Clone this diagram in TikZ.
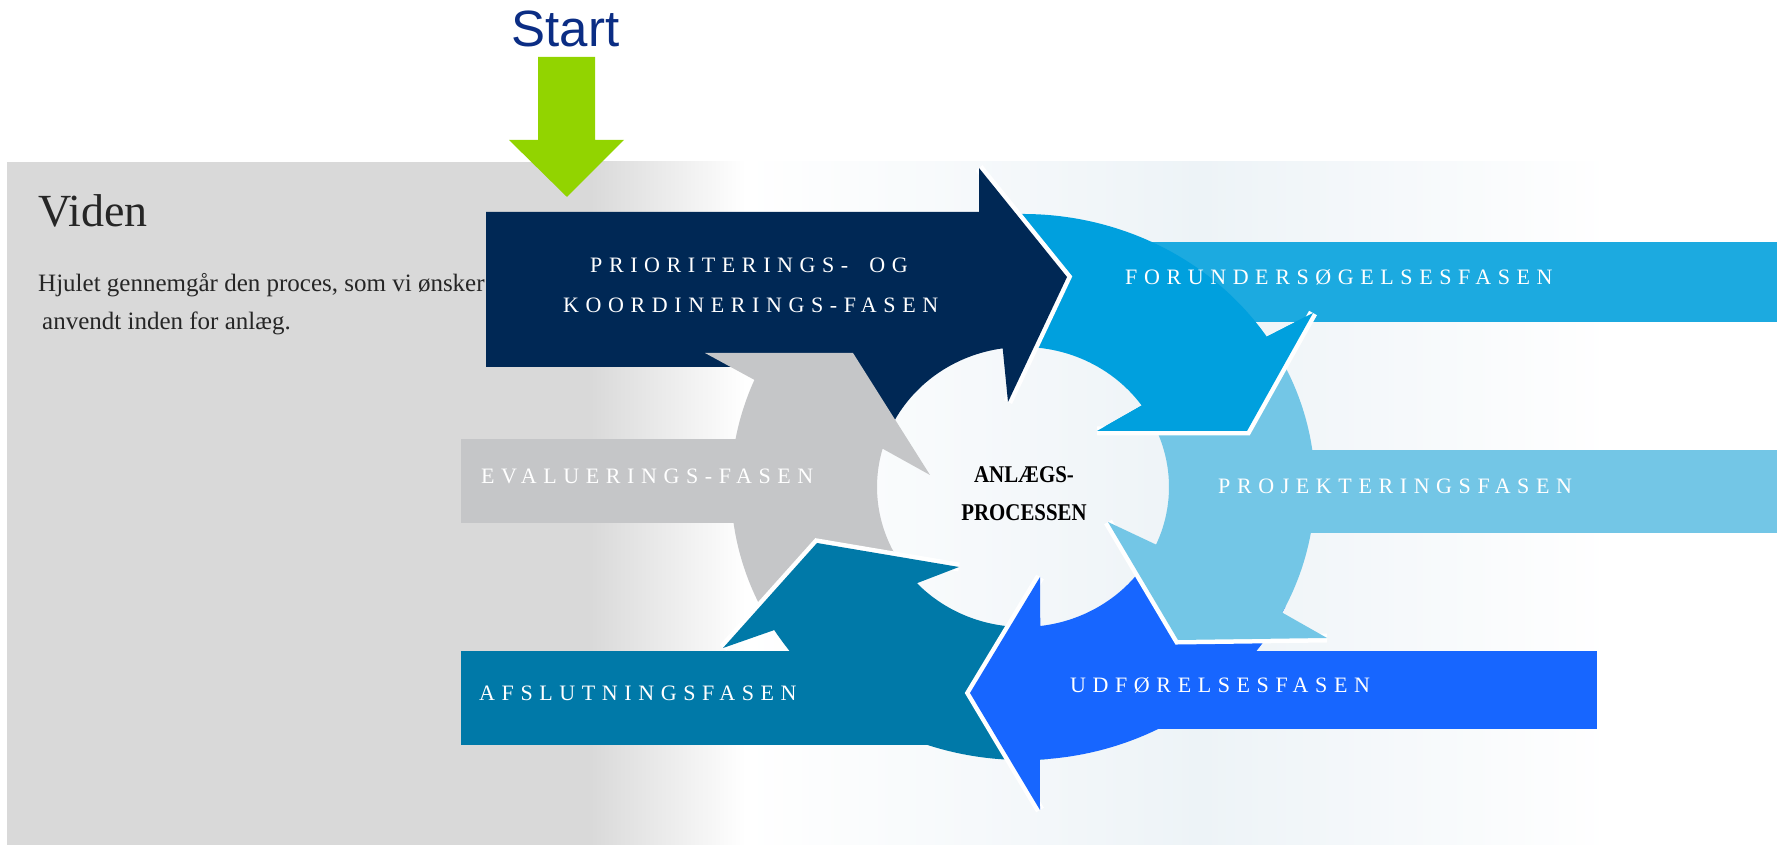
\documentclass[tikz,border=0pt]{standalone}
\usepackage{fontspec}
\setmainfont{Liberation Serif}
\newfontfamily\phasefont[LetterSpace=30]{Liberation Serif}
\newfontfamily\startfont{Liberation Sans}
\usetikzlibrary{calc}

\definecolor{panelgray}{HTML}{D9D9D9}
\definecolor{paleblue}{HTML}{EDF3F7}
\definecolor{textgray}{HTML}{262626}
\definecolor{startblue}{HTML}{0B2D84}
\definecolor{startgreen}{HTML}{92D400}
\definecolor{navyphase}{HTML}{002855}
\definecolor{forephase}{HTML}{00A0DE}
\definecolor{forebanner}{HTML}{1CAAE0}
\definecolor{projphase}{HTML}{73C6E6}
\definecolor{udfphase}{HTML}{1766FF}
\definecolor{afsphase}{HTML}{0079A8}
\definecolor{evalphase}{HTML}{C5C6C8}

\begin{document}
\begin{tikzpicture}[x=1pt,y=1pt,
  headgap/.style={draw=white,line width=9pt},
  phase/.style={text=white,anchor=base west,inner sep=0pt,
    font=\phasefont\fontsize{22}{26}\selectfont}]

  \useasboundingbox (0,0) rectangle (1777,845);

  %% the panel behind everything
  \fill[panelgray] (7,0) rectangle (591,683);
  \shade[left color=panelgray,right color=white] (590,0) rectangle (746,683);
  \shade[left color=white,right color=paleblue] (745,0) rectangle (1201,683);
  \shade[left color=paleblue,right color=white] (1200,0) rectangle (1610,683);

  %% start arrow and its label
  \fill[startgreen] (538,788) -- (595,788) -- (595,705) -- (624,705)
                    -- (567,648) -- (509,705) -- (538,705) -- cycle;
  \node[anchor=base,inner sep=0pt,text=startblue,
        font=\startfont\fontsize{51}{60}\selectfont] (start) at (565.5,798) {Start};

  %% text on the panel
  \node[anchor=base west,inner sep=0pt,text=textgray,
        font=\fontsize{46}{52}\selectfont] (viden) at (38,618) {Viden};
  \node[anchor=base west,inner sep=0pt,text=textgray,
        font=\fontsize{25}{30}\selectfont] (intro/a) at (38,553)
        {Hjulet gennemgår den proces, som vi ønsker};
  \node[anchor=base west,inner sep=0pt,text=textgray,
        font=\fontsize{25}{30}\selectfont] (intro/b) at (42,515)
        {anvendt inden for anlæg.};

  %% the wheel: center and the two ellipses of the ring
  \coordinate (wheel/c) at (1023,358);
  \def\myox{292pt}
  \def\myoy{273pt}
  \def\myix{146pt}
  \def\myiy{140pt}

  %% forundersoegelsesfasen (its head is drawn once more at the end)
  \coordinate (fore/bo)  at (1313,532);
  \coordinate (fore/tip) at (1247,414);
  \coordinate (fore/bi)  at (1097,414);
  \fill[forebanner] (1120,523) rectangle (1777,603);
  \fill[forephase] ($(wheel/c)+(98:{\myox} and {\myoy})$)
      arc[start angle=98,end angle=33.4,x radius=\myox,y radius=\myoy]
      -- (fore/bo) -- (fore/tip) -- (fore/bi)
      -- ($(wheel/c)+(35.6:{\myix} and {\myiy})$)
      arc[start angle=35.6,end angle=98,x radius=\myix,y radius=\myiy] -- cycle;

  %% prioriterings- og koordineringsfasen
  \coordinate (navy/bo)  at (979,677);
  \coordinate (navy/tip) at (1067,568);
  \coordinate (navy/bi)  at (1008,443);
  \draw[headgap] (navy/bo) -- (navy/tip) -- (navy/bi);
  \fill[navyphase] (486,478) -- (486,633) -- (979,633)
      -- (navy/bo) -- (navy/tip) -- (navy/bi)
      -- ($(wheel/c)+(98:{\myix} and {\myiy})$)
      arc[start angle=98,end angle=155,x radius=\myix,y radius=\myiy]
      -- (800,478) -- cycle;

  %% evalueringsfasen
  \coordinate (eval/bo)  at (705,492);
  \coordinate (eval/tip) at (853,492);
  \coordinate (eval/bi)  at (930,370);
  \fill[evalphase] (461,322) rectangle (801,406);
  \fill[evalphase] ($(wheel/c)+(213:{\myox} and {\myoy})$)
      arc[start angle=213,end angle=156.9,x radius=\myox,y radius=\myoy]
      -- (eval/bo) -- (eval/tip) -- (eval/bi)
      -- ($(wheel/c)+(164.1:{\myix} and {\myiy})$)
      arc[start angle=164.1,end angle=213,x radius=\myix,y radius=\myiy] -- cycle;

  %% afslutningsfasen
  \coordinate (afs/bo)  at (723,197);
  \coordinate (afs/tip) at (817,302);
  \coordinate (afs/bi)  at (959,278);
  \draw[headgap] (afs/bo) -- (afs/tip) -- (afs/bi);
  \fill[afsphase] (461,100) rectangle (961,194);
  \fill[afsphase] ($(wheel/c)+(-85:{\myox} and {\myoy})$)
      arc[start angle=-85,end angle=-148.4,x radius=\myox,y radius=\myoy]
      -- (afs/bo) -- (afs/tip) -- (afs/bi)
      -- ($(wheel/c)+(-136.6:{\myix} and {\myiy})$)
      arc[start angle=-136.6,end angle=-85,x radius=\myix,y radius=\myiy] -- cycle;

  %% udfoerelsesfasen
  \coordinate (udf/bo)  at (1040,35);
  \coordinate (udf/tip) at (970,152);
  \coordinate (udf/bi)  at (1040,268);
  \draw[headgap] (udf/bo) -- (udf/tip) -- (udf/bi);
  \fill[udfphase] (1060,116) rectangle (1597,194);
  \fill[udfphase] ($(wheel/c)+(-26:{\myox} and {\myoy})$)
      arc[start angle=-26,end angle=-86.7,x radius=\myox,y radius=\myoy]
      -- (udf/bo) -- (udf/tip) -- (udf/bi)
      -- ($(wheel/c)+(-83.2:{\myix} and {\myiy})$)
      arc[start angle=-83.2,end angle=-26,x radius=\myix,y radius=\myiy] -- cycle;

  %% projekteringsfasen
  \coordinate (proj/bo)  at (1327,207);
  \coordinate (proj/tip) at (1178,205);
  \coordinate (proj/bi)  at (1108,323);
  \draw[headgap] (proj/bo) -- (proj/tip) -- (proj/bi);
  \fill[projphase] (1250,312) rectangle (1777,395);
  \fill[projphase] ($(wheel/c)+(33:{\myox} and {\myoy})$)
      arc[start angle=33,end angle=-27.4,x radius=\myox,y radius=\myoy]
      -- (proj/bo) -- (proj/tip) -- (proj/bi)
      -- ($(wheel/c)+(-24.3:{\myix} and {\myiy})$)
      arc[start angle=-24.3,end angle=33,x radius=\myix,y radius=\myiy] -- cycle;

  %% head of forundersoegelsesfasen on top of the tail of projekteringsfasen
  \draw[headgap] (fore/bo) -- (fore/tip) -- (fore/bi);
  \fill[forephase] ($(wheel/c)+(33.4:{\myox} and {\myoy})$)
      -- (fore/bo) -- (fore/tip) -- (fore/bi)
      -- ($(wheel/c)+(35.6:{\myix} and {\myiy})$) -- cycle;

  %% labels
  \node[phase] (navy/label1) at (590,572) {PRIORITERINGS-\hspace{9pt} OG};
  \node[phase] (navy/label2) at (563,532) {KOORDINERINGS-FASEN};
  \node[phase] (fore/label)  at (1125,560) {FORUNDERSØGELSESFASEN};
  \node[phase] (proj/label)  at (1218,351) {PROJEKTERINGSFASEN};
  \node[phase] (udf/label)   at (1070,152) {UDFØRELSESFASEN};
  \node[phase] (afs/label)   at (479,144) {AFSLUTNINGSFASEN};
  \node[phase] (eval/label)  at (481,361) {EVALUERINGS-FASEN};

  \node[anchor=base,inner sep=0pt,xscale=0.87,
        font=\bfseries\fontsize{24}{28}\selectfont] (wheel/top) at (1024,362) {ANLÆGS-};
  \node[anchor=base,inner sep=0pt,xscale=0.87,
        font=\bfseries\fontsize{24}{28}\selectfont] (wheel/bottom) at (1024,324) {PROCESSEN};

\end{tikzpicture}
\end{document}
